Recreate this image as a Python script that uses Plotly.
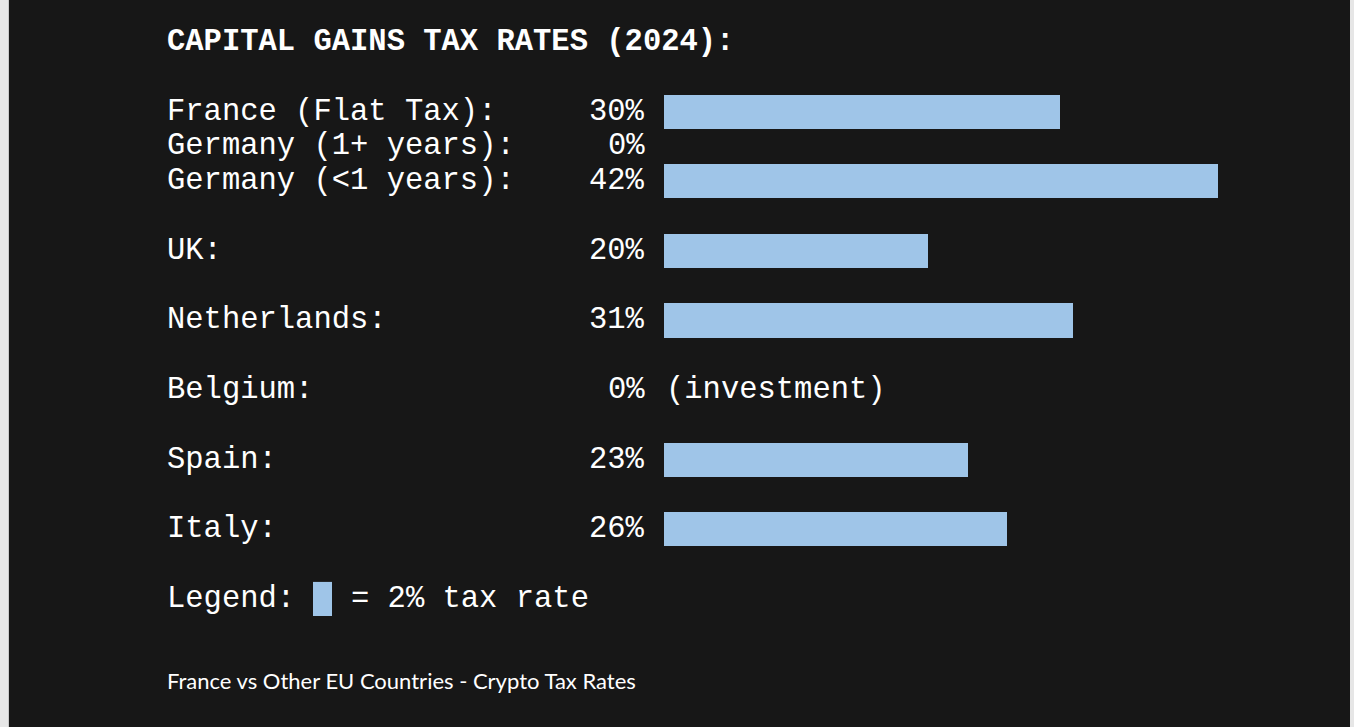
import plotly.graph_objects as go

# ---- data ----
labels = ["France (Flat Tax):", "Germany (1+ years):", "Germany (<1 years):",
          "UK:", "Netherlands:", "Belgium:", "Spain:", "Italy:"]
rates = [30, 0, 42, 20, 31, 0, 23, 26]
notes = ["", "", "", "", "", "(investment)", "", ""]
title_text = "CAPITAL GAINS TAX RATES (2024):"
legend_text = "= 2% tax rate"
footer_text = "France vs Other EU Countries - Crypto Tax Rates"

# ---- layout constants (text-line grid) ----
W, H = 1354, 727
BG = "#171717"
BAR = "#9fc5e8"
TXT = "#ffffff"
MONO = "Liberation Mono, Courier New, monospace"
FS = 30.5
row_lines = [2, 3, 4, 6, 8, 10, 12, 14]   # text line of each row
legend_line = 16
footer_line = 18.33
line_px = 34.81
top_px = 42.0
y_min = -top_px / line_px
y_max = y_min + H / line_px
bar_x0_px = 664
px_per_pct = 13.2
x_min = -bar_x0_px / px_per_pct
x_max = (W - bar_x0_px) / px_per_pct

def px(xp):
    return xp / W

fig = go.Figure()
fig.add_trace(go.Bar(
    x=rates, y=row_lines, orientation="h", base=0, width=0.98,
    marker=dict(color=BAR, line=dict(width=0)), hoverinfo="skip",
    showlegend=False,
))

ann = []
ann.append(dict(x=px(165), y=0, xref="paper", yref="y", text="<b>" + title_text + "</b>",
                xanchor="left", yanchor="middle", showarrow=False,
                font=dict(family=MONO, size=FS, color=TXT)))
for lab, r, nt, ln in zip(labels, rates, notes, row_lines):
    ann.append(dict(x=px(165), y=ln, xref="paper", yref="y", text=lab,
                    xanchor="left", yanchor="middle", showarrow=False,
                    font=dict(family=MONO, size=FS, color=TXT)))
    ann.append(dict(x=px(647), y=ln, xref="paper", yref="y", text=f"{r}%",
                    xanchor="right", yanchor="middle", showarrow=False,
                    font=dict(family=MONO, size=FS, color=TXT)))
    if nt:
        ann.append(dict(x=px(664), y=ln, xref="paper", yref="y", text=nt,
                        xanchor="left", yanchor="middle", showarrow=False,
                        font=dict(family=MONO, size=FS, color=TXT)))
ann.append(dict(x=px(165), y=legend_line, xref="paper", yref="y", text="Legend:",
                xanchor="left", yanchor="middle", showarrow=False,
                font=dict(family=MONO, size=FS, color=TXT)))
ann.append(dict(x=px(349), y=legend_line, xref="paper", yref="y", text=legend_text,
                xanchor="left", yanchor="middle", showarrow=False,
                font=dict(family=MONO, size=FS, color=TXT)))
ann.append(dict(x=px(165), y=footer_line, xref="paper", yref="y", text=footer_text,
                xanchor="left", yanchor="middle", showarrow=False,
                font=dict(family="Lato, Open Sans, sans-serif", size=22, color=TXT)))

shapes = [
    dict(type="rect", xref="paper", yref="paper", x0=0, x1=px(8), y0=0, y1=1,
         fillcolor="#e6e6e6", line=dict(width=0), layer="above"),
    dict(type="rect", xref="paper", yref="paper", x0=px(8), x1=px(9), y0=0, y1=1,
         fillcolor="#c8c8c8", line=dict(width=0), layer="above"),
    dict(type="rect", xref="paper", yref="paper", x0=px(1350), x1=1, y0=0, y1=1,
         fillcolor="#e6e6e6", line=dict(width=0), layer="above"),
    dict(type="rect", xref="paper", yref="y", x0=px(313), x1=px(332),
         y0=legend_line - 0.49, y1=legend_line + 0.49,
         fillcolor=BAR, line=dict(width=0)),
]

fig.update_layout(
    width=W, height=H, margin=dict(l=0, r=0, t=0, b=0),
    paper_bgcolor=BG, plot_bgcolor=BG,
    xaxis=dict(range=[x_min, x_max], visible=False, fixedrange=True),
    yaxis=dict(range=[y_max, y_min], visible=False, fixedrange=True),
    annotations=ann, shapes=shapes, bargap=0,
)
fig.write_html("out.html", config={"displayModeBar": False},
               post_script="document.body.style.margin='0';document.body.style.overflow='hidden';")
